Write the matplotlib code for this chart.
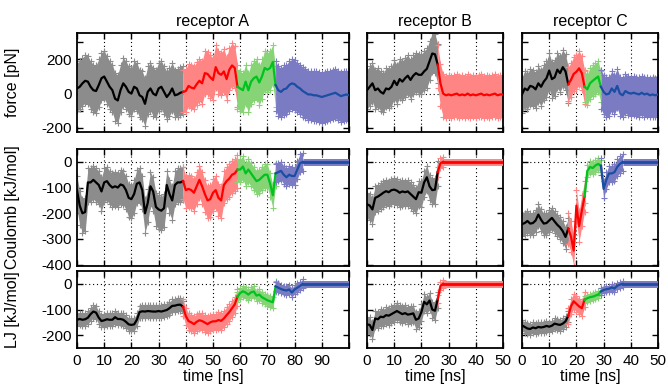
import numpy as np
import matplotlib.pyplot as plt

plt.rcParams['font.family'] = ['Liberation Sans', 'DejaVu Sans']
plt.rcParams['font.size'] = 11.5
plt.rcParams['axes.unicode_minus'] = False

# cloud colour / line colour for the four pulling stages
light = ['#8c8c8c', '#ff8585', '#86d476', '#7b7bc3']
dark = ['#000000', '#ff0000', '#00c31f', '#1b4ea3']

titles = ['receptor A', 'receptor B', 'receptor C']
ylabels = ['force [pN]', 'Coulomb [kJ/mol]', 'LJ [kJ/mol]']

# stage boundaries (ns) for each receptor, values are on a 1 ns grid
breaks_A = [39, 59, 73]
breaks_B = [26]
breaks_C = [17, 23, 29]
stages_A = [0, 1, 2, 3]
stages_B = [0, 1]
stages_C = [0, 1, 2, 3]

# force [pN], smoothed trace
force_A = [30, 40, 60, 75, 70, 40, 20, 15, 50, 90, 100, 70, 40, 20, -30, -40, 20, 60, 40, 10,
           0, 40, 30, -10, -20, -60, 10, 30, 0, -10, 30, 40, 10, -20, 0, 30, -10, -5, 5, 10,
           15, 45, 35, 30, 55, 75, 60, 120, 115, 95, 80, 155, 120, 110, 130, 85, 140, 165, 150, 40,
           30, 20, 70, 20, 70, 90, 100, 65, 100, 150, 140, 150, 185, 50,
           20, 10, 25, 30, 50, 60, 55, 40, 30, 15, 5, -5, -5, -10, -10, -15, -20, -15, -10, -5,
           0, 5, -5, -15, -10, -5, -10]
force_B = [20, 40, 60, 20, 30, 10, 0, 30, 25, 40, 75, 50, 85, 70, 90, 105, 80, 105, 120, 110,
           110, 130, 145, 190, 235, 230, 170,
           60, 0, -10, -5, -10, -5, 0, -10, -5, -10, 0, -10, -5, -10, -5, 0, -10, -5, -10, -5,
           0, -10, -5, -5]
force_C = [-5, 30, 20, 45, 40, 25, 60, 40, 70, 90, 135, 85, 95, 140, 120, 155, 130, 55,
           80, 115, 128, 148, 120, 40,
           25, 60, 75, 88, 100, 40,
           10, -5, 0, 30, 10, 45, 0, -10, 15, 5, 0, 5, 0, -5, 5, -5, 0, -10, -5, -10, -5]

# Coulomb energy [kJ/mol], ends when the ligand is unbound
coul_A = [-110, -170, -200, -195, -80, -80, -70, -80, -90, -115, -80, -75, -90, -100, -95, -100,
          -88, -92, -110, -140, -145, -125, -85, -80, -110, -200, -160, -95, -115, -175, -185,
          -190, -180, -90, -125, -150, -90, -80, -80, -75,
          -110, -105, -110, -120, -95, -70, -95, -125, -150, -145, -120, -110, -140, -150, -90,
          -75, -65, -50, -45, -30,
          -30, -18, -45, -30, -45, -60, -75, -70, -60, -50, -50, -85, -130, -45,
          -40, -35, -50, -60, -50, -55, -55, -30, -5, 0]
coul_B = [-165, -170, -185, -140, -135, -128, -120, -114, -118, -110, -108, -112, -120, -115,
          -118, -115, -125, -135, -145, -118, -120, -80, -60, -95, -110, -108, -40,
          -5, 0]
coul_C = [-242, -238, -230, -240, -238, -228, -205, -225, -240, -238, -228, -218, -232, -245,
          -255, -270, -292, -260,
          -290, -345, -170, -250, -190, -135,
          -35, -20, -24, -14, -8, -15,
          -105, -70, -45, -45, -40, -20, -8, 0]

# Lennard-Jones energy [kJ/mol]
lj_A = [-140, -137, -140, -138, -132, -118, -108, -112, -132, -145, -142, -138, -140, -140, -130,
        -137, -137, -140, -148, -158, -160, -158, -140, -110, -107, -108, -106, -107, -108, -108,
        -106, -108, -105, -102, -95, -86, -85, -82, -81, -90,
        -125, -145, -150, -157, -148, -142, -145, -151, -157, -150, -146, -146, -141, -144, -135,
        -122, -110, -95, -80, -50,
        -36, -29, -34, -42, -33, -30, -46, -42, -52, -58, -64, -68, -72, -10,
        -15, -20, -24, -26, -22, -34, -22, -15, -8, 0]
lj_B = [-158, -160, -180, -135, -138, -128, -130, -122, -124, -118, -112, -106, -112, -118, -114,
        -120, -118, -115, -140, -135, -110, -70, -80, -65, -100, -105, -60,
        -8, 0]
lj_C = [-162, -168, -174, -176, -170, -173, -168, -170, -168, -164, -167, -163, -155, -158, -160,
        -155, -146, -125,
        -88, -68, -78, -88, -95, -62,
        -56, -52, -50, -46, -42, -30,
        -24, -21, -19, -14, -18, -8, -3, 0]

# width of the raw-data cloud above / below the trace, per stage
spread_force = [[(150, 130), (130, 120), (100, 130), (140, 150)],
                [(120, 110), (115, 135)],
                [(100, 110), (100, 100), (90, 90), (100, 130)]]
spread_coul = [[(55, 75), (55, 70), (40, 50), (35, 35)],
               [(45, 55), (20, 20)],
               [(40, 45), (60, 60), (22, 25), (30, 35)]]
spread_lj = [[(25, 25), (30, 35), (20, 22), (17, 17)],
             [(30, 35), (15, 15)],
             [(20, 22), (30, 30), (14, 14), (12, 12)]]

data = [[force_A, force_B, force_C], [coul_A, coul_B, coul_C], [lj_A, lj_B, lj_C]]
spreads = [spread_force, spread_coul, spread_lj]
breaks = [breaks_A, breaks_B, breaks_C]
stages = [stages_A, stages_B, stages_C]
xmax = [100, 50, 50]
ylims = [(-225, 355), (-405, 50), (-250, 50)]
yticks = [range(-200, 301, 100), range(-400, 1, 100), range(-200, 1, 100)]


def draw_trace(ax, values, brk, stg, spr, xend):
    t = np.arange(len(values))
    v = np.array(values, dtype=float)
    edges = [0] + brk + [len(v) - 1]
    for i, c in enumerate(stg):
        s = slice(edges[i], edges[i + 1] + 1)
        up, dn = spr[i]
        ax.fill_between(t[s], v[s] - dn, v[s] + up, color=light[c], lw=0, zorder=2)
        ax.scatter(t[s], v[s] + up, marker='+', s=14, lw=0.8, color=light[c], zorder=2)
        ax.scatter(t[s], v[s] - dn, marker='+', s=14, lw=0.8, color=light[c], zorder=2)
    if t[-1] < xend:
        # unbound: the energy sits at zero till the end of the run
        c = stg[-1]
        ax.plot([t[-1], xend], [v[-1], v[-1]], color=light[c], lw=5, zorder=3,
                solid_capstyle='butt')
        ax.plot([t[-1], xend], [v[-1], v[-1]], color=dark[c], lw=2, zorder=4)
    for i, c in enumerate(stg):
        s = slice(edges[i], edges[i + 1] + 1)
        ax.plot(t[s], v[s], color=dark[c], lw=1.6, zorder=4)


fig = plt.figure(figsize=(6.68, 3.85), dpi=100)
W, H = 668, 385
cols = [(77, 349), (367, 503), (522, 658)]
rows = [(33, 132), (149, 266), (271, 348)]

for r in range(3):
    for c in range(3):
        x0, x1 = cols[c]
        y0, y1 = rows[r]
        ax = fig.add_axes([x0 / W, 1 - y1 / H, (x1 - x0) / W, (y1 - y0) / H])
        draw_trace(ax, data[r][c], breaks[c], stages[c], spreads[r][c], xmax[c])
        ax.set_xlim(0, xmax[c])
        ax.set_ylim(*ylims[r])
        xt = list(range(0, xmax[c] + 1, 10))
        ax.set_xticks(xt)
        ax.set_yticks(list(yticks[r]))
        for x in xt[1:-1]:
            ax.axvline(x, color='k', lw=0.8, ls=(0, (1, 2.5)), zorder=1)
        ax.axhline(0, color='k', lw=0.8, ls=(0, (1, 2.5)), zorder=1)
        ax.tick_params(direction='in', top=True, right=True, length=4, width=1,
                       labelsize=11, pad=4)
        for sp in ax.spines.values():
            sp.set_linewidth(1.3)
        if r == 2:
            ax.set_xticklabels([str(x) if x < 100 else '' for x in xt])
            ax.set_xlabel('time [ns]', fontsize=11.5, labelpad=1)
        else:
            ax.set_xticklabels([])
        if c == 0:
            if r == 0:
                ax.set_yticklabels([str(y) if y % 200 == 0 else '' for y in yticks[r]])
            else:
                ax.set_yticklabels([str(y) for y in yticks[r]])
            ax.set_ylabel(ylabels[r], fontsize=11.5)
            ax.yaxis.set_label_coords(-0.21, 0.5)
        else:
            ax.set_yticklabels([])
        if r == 0:
            ax.set_title(titles[c], fontsize=11.5, pad=5)

fig.savefig('out.png', dpi=100)
